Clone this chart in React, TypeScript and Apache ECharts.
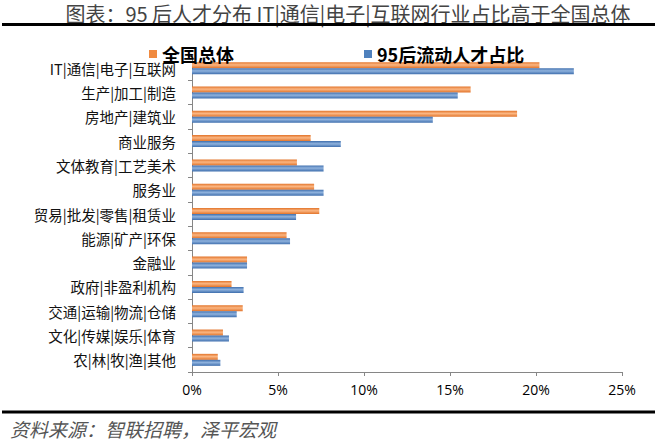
import React, { useEffect, useRef } from "react";
import * as echarts from "echarts";

const categories = [
  "IT|通信|电子|互联网",
  "生产|加工|制造",
  "房地产|建筑业",
  "商业服务",
  "文体教育|工艺美术",
  "服务业",
  "贸易|批发|零售|租赁业",
  "能源|矿产|环保",
  "金融业",
  "政府|非盈利机构",
  "交通|运输|物流|仓储",
  "文化|传媒|娱乐|体育",
  "农|林|牧|渔|其他",
];

const nationalTotal = [20.2, 16.2, 18.9, 6.9, 6.1, 7.1, 7.4, 5.5, 3.2, 2.3, 2.95, 1.8, 1.5];
const post95Share = [22.2, 15.45, 14.0, 8.65, 7.65, 7.65, 6.05, 5.7, 3.2, 3.0, 2.6, 2.15, 1.65];

const xTicks = [0, 5, 10, 15, 20, 25];

const seriesNames = ["全国总体", "95后流动人才占比"];

const titleText = "图表：95 后人才分布 IT|通信|电子|互联网行业占比高于全国总体";
const sourceText = "资料来源：智联招聘，泽平宏观";

const cjk = '"Noto Sans CJK SC", "Noto Sans", sans-serif';

function grad(edge: string, mid: string) {
  return new echarts.graphic.LinearGradient(0, 0, 0, 1, [
    { offset: 0, color: edge },
    { offset: 0.45, color: mid },
    { offset: 1, color: edge },
  ]);
}

export default function App() {
  const ref = useRef<HTMLDivElement>(null);
  useEffect(() => {
    if (!ref.current) return;
    const chart = echarts.init(ref.current, undefined, { renderer: "svg" });
    chart.setOption({
      animation: false,
      backgroundColor: "#ffffff",
      graphic: [
        {
          type: "text",
          x: 348,
          y: 3,
          style: {
            text: titleText,
            font: `20px ${cjk}`,
            fill: "#444",
            align: "center",
            verticalAlign: "top",
            lineHeight: 20,
          },
        },
        {
          type: "line",
          shape: { x1: 2, y1: 24.5, x2: 655, y2: 24.5 },
          style: { stroke: "#000", lineWidth: 3 },
        },
        {
          type: "line",
          shape: { x1: 2, y1: 412, x2: 655, y2: 412 },
          style: { stroke: "#000", lineWidth: 3 },
        },
        {
          type: "text",
          x: 10,
          y: 428,
          style: {
            text: sourceText,
            font: `italic 19px ${cjk}`,
            fill: "#555",
            verticalAlign: "middle",
          },
        },
      ],
      legend: {
        left: 144,
        top: 40,
        itemGap: 130,
        itemWidth: 8,
        itemHeight: 8,
        icon: "rect",
        data: [
          { name: seriesNames[0], itemStyle: { color: "#F08A40" } },
          { name: seriesNames[1], itemStyle: { color: "#4F81BD" } },
        ],
        textStyle: {
          fontFamily: cjk,
          fontSize: 18,
          fontWeight: "bold",
          color: "#000",
          lineHeight: 18,
        },
      },
      grid: { left: 192, right: 38, top: 56, bottom: 68, containLabel: false },
      xAxis: {
        type: "value",
        min: 0,
        max: 25,
        interval: 5,
        axisLine: { show: true, lineStyle: { color: "#868686", width: 1 } },
        axisTick: { show: true, length: 4, lineStyle: { color: "#868686" } },
        splitLine: { show: false },
        axisLabel: {
          formatter: (v: number) => (xTicks.includes(v) ? `${v}%` : ""),
          fontFamily: '"Open Sans", sans-serif',
          fontSize: 14,
          color: "#000",
          margin: 10,
        },
      },
      yAxis: {
        type: "category",
        inverse: true,
        data: categories,
        axisLine: { show: true, lineStyle: { color: "#868686", width: 1 } },
        axisTick: { show: true, length: 4, inside: false, lineStyle: { color: "#868686" } },
        axisLabel: {
          fontFamily: cjk,
          fontSize: 14.5,
          color: "#111",
          margin: 16,
        },
      },
      series: [
        {
          name: seriesNames[0],
          type: "bar",
          data: nationalTotal,
          barWidth: 6,
          barGap: "0%",
          itemStyle: { color: grad("#E2742A", "#FBB682") },
        },
        {
          name: seriesNames[1],
          type: "bar",
          data: post95Share,
          barWidth: 6,
          barGap: "0%",
          itemStyle: { color: grad("#3F6FAE", "#8FB2DD") },
        },
      ],
    });
    return () => chart.dispose();
  }, []);
  return (
    <div
      ref={ref}
      style={{ position: "fixed", left: 0, top: 0, width: 660, height: 440 }}
    />
  );
}
